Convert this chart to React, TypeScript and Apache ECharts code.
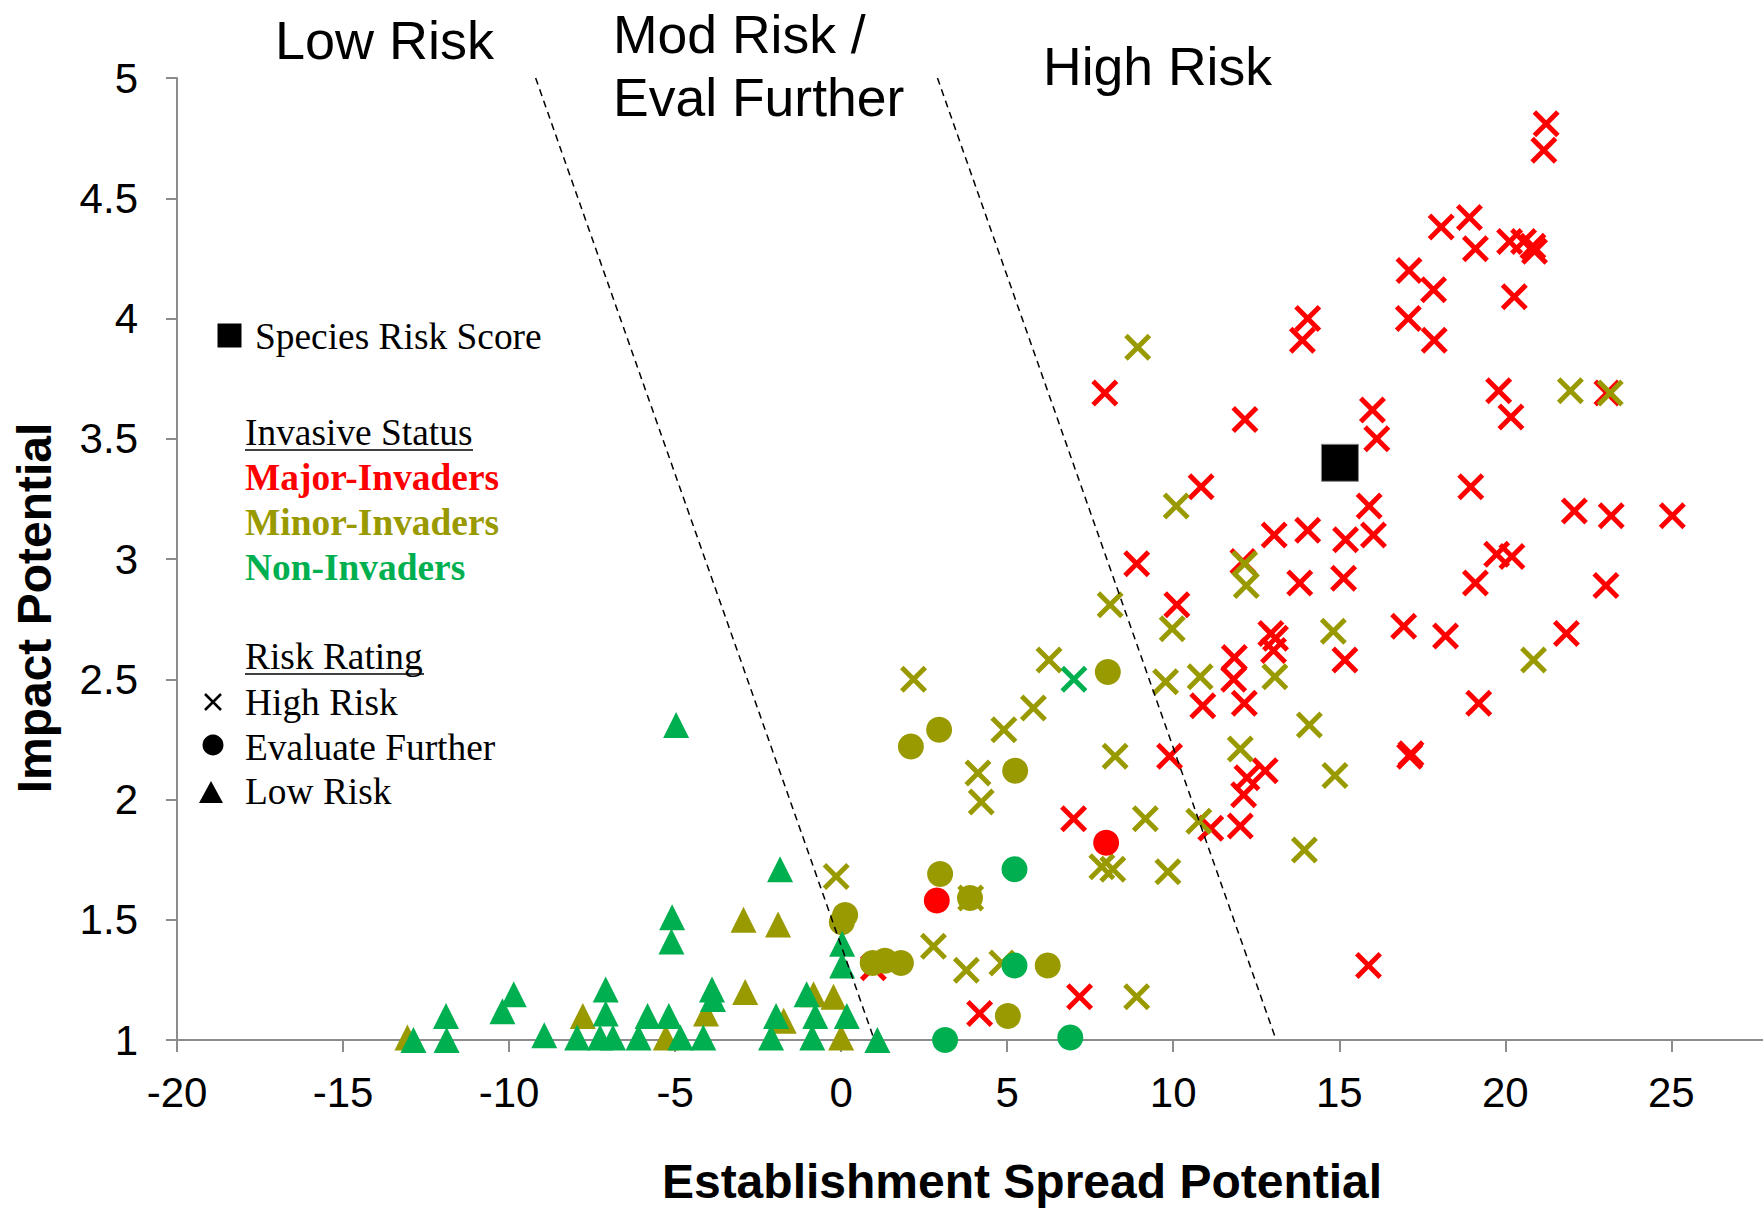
import React, { useEffect, useRef } from "react";
import * as echarts from "echarts";

// Establishment spread (x) and impact (y) scores, by invasive status and risk rating
const majorHighRisk: [number, number][] = [
  [21.23, 4.81], [21.16, 4.70],
  [18.07, 4.38], [18.92, 4.42], [19.10, 4.29], [20.13, 4.32], [20.55, 4.32], [20.83, 4.30], [20.88, 4.28],
  [17.10, 4.20], [17.84, 4.12], [17.08, 4.00], [17.86, 3.91], [20.27, 4.09],
  [14.05, 4.00], [13.89, 3.91],
  [19.80, 3.70], [20.17, 3.59], [23.06, 3.69],
  [7.94, 3.69], [12.16, 3.58], [16.00, 3.62], [16.13, 3.50],
  [10.84, 3.30], [18.96, 3.30], [15.90, 3.22],
  [22.08, 3.20], [23.19, 3.18], [25.03, 3.18],
  [13.04, 3.10], [14.05, 3.12], [15.19, 3.08], [16.03, 3.10],
  [19.74, 3.02], [20.20, 3.01],
  [8.90, 2.98], [12.10, 2.99], [13.81, 2.90], [15.13, 2.92], [19.10, 2.90], [23.03, 2.89],
  [10.11, 2.81],
  [12.94, 2.69], [13.08, 2.67], [13.02, 2.62], [16.94, 2.72], [18.20, 2.68], [21.84, 2.69],
  [11.84, 2.59], [11.82, 2.50], [15.17, 2.58],
  [10.89, 2.39], [12.14, 2.40], [19.20, 2.40],
  [17.12, 2.18], [17.16, 2.19],
  [9.89, 2.18],
  [12.22, 2.09], [12.77, 2.12], [12.12, 2.02],
  [11.13, 1.88], [12.02, 1.89],
  [7.00, 1.92],
  [15.88, 1.31],
  [7.18, 1.18], [4.17, 1.11], [0.97, 1.30],
];

const minorHighRisk: [number, number][] = [
  [8.93, 3.88], [10.09, 3.22], [12.15, 2.98], [12.20, 2.89], [8.10, 2.81], [9.97, 2.71], [14.82, 2.70],
  [21.96, 3.70], [23.16, 3.69], [20.85, 2.58],
  [6.26, 2.58], [2.18, 2.50], [9.77, 2.49], [10.81, 2.51], [13.06, 2.51],
  [5.79, 2.38], [4.90, 2.29], [14.10, 2.31],
  [4.12, 2.11], [4.22, 1.99], [8.25, 2.18], [12.02, 2.21], [14.87, 2.10],
  [10.77, 1.91], [9.16, 1.92], [13.95, 1.79],
  [7.85, 1.72], [8.18, 1.71], [9.84, 1.70],
  [-0.15, 1.68], [3.90, 1.59],
  [2.78, 1.39], [3.77, 1.29], [4.84, 1.32],
  [8.90, 1.18],
];

const nonHighRisk: [number, number][] = [[7.01, 2.50]];

const majorEvaluate: [number, number][] = [[2.88, 1.58], [7.98, 1.82]];

const minorEvaluate: [number, number][] = [
  [8.03, 2.53], [2.95, 2.29], [2.10, 2.22], [5.24, 2.12], [2.98, 1.69], [3.88, 1.59],
  [0.12, 1.52], [0.02, 1.49], [0.95, 1.32], [1.32, 1.33], [1.80, 1.32], [6.22, 1.31], [5.02, 1.10],
];

const nonEvaluate: [number, number][] = [[5.22, 1.71], [5.22, 1.31], [3.13, 1.00], [6.90, 1.01]];

const minorLowRisk: [number, number][] = [
  [-13.06, 1.01], [-7.78, 1.10], [-5.28, 1.01], [-4.07, 1.11], [-2.94, 1.50], [-1.90, 1.48],
  [-2.89, 1.20], [-1.73, 1.08], [-0.83, 1.19], [-0.23, 1.18], [0.00, 1.01],
];

const nonLowRisk: [number, number][] = [
  [-12.88, 1.00], [-11.90, 1.10], [-11.88, 1.00], [-10.20, 1.12], [-9.86, 1.19], [-8.94, 1.02],
  [-7.95, 1.01], [-7.09, 1.21], [-7.09, 1.11], [-7.26, 1.01], [-6.87, 1.01], [-6.10, 1.01],
  [-5.83, 1.10], [-5.19, 1.10], [-4.84, 1.01], [-4.15, 1.01], [-3.89, 1.21], [-3.86, 1.17],
  [-2.11, 1.01], [-1.96, 1.10], [-1.04, 1.19], [-0.78, 1.10], [-0.87, 1.01], [0.17, 1.10],
  [0.03, 1.40], [0.03, 1.31], [1.09, 1.00], [-4.97, 2.31], [-1.84, 1.71], [-5.09, 1.51], [-5.11, 1.41],
];

const speciesRiskScore: [number, number][] = [[15.02, 3.40]];

// Boundaries between the risk zones
const lowModBoundary: [number, number][] = [[-9.2, 5], [1.0, 1]];
const modHighBoundary: [number, number][] = [[2.9, 5], [13.1, 1]];

const xTickValues = [-20, -15, -10, -5, 0, 5, 10, 15, 20, 25];

const RED = "#FF0000";
const OLIVE = "#999900";
const GREEN = "#00B050";
const AXIS = "#8C8C8C";
const SANS = "'Liberation Sans', Arial, sans-serif";
const SERIF = "'Liberation Serif', 'Times New Roman', serif";

const CROSS = "path://M0,13L13,0L50,37L87,0L100,13L63,50L100,87L87,100L50,63L13,100L0,87L37,50Z";

function scatter(data: [number, number][], symbol: string, size: number, color: string) {
  return {
    type: "scatter",
    data,
    symbol,
    symbolSize: size,
    itemStyle: { color, opacity: 1 },
    silent: true,
    emphasis: { disabled: true },
  };
}

function boundary(data: [number, number][]) {
  return {
    type: "line",
    data,
    symbol: "none",
    silent: true,
    z: 5,
    lineStyle: { color: "#000", width: 1.5, type: [7, 5] },
  };
}

function label(text: string, x: number, y: number, size: number, opts: any = {}) {
  return {
    type: "text",
    x,
    y,
    rotation: opts.rotation || 0,
    style: {
      text,
      fill: opts.fill || "#000",
      fontSize: size,
      fontFamily: opts.family || SANS,
      fontWeight: opts.weight || "normal",
      textAlign: opts.align || "left",
      textVerticalAlign: "middle",
    },
  };
}

export default function App() {
  const ref = useRef<HTMLDivElement>(null);

  useEffect(() => {
    const chart = echarts.init(ref.current!, null, { renderer: "svg" });
    const legendText = (t: string, y: number, fill = "#000", weight = "normal") =>
      label(t, 245, y, 37.4, { family: SERIF, fill, weight });

    chart.setOption({
      animation: false,
      grid: { left: 177, right: 0, top: 78, bottom: 171, containLabel: false, outerBoundsMode: "none" },
      xAxis: {
        type: "value",
        min: -20,
        max: 27.76,
        interval: 5,
        splitLine: { show: false },
        axisLine: { show: true, onZero: false, lineStyle: { color: AXIS, width: 2 } },
        axisTick: { show: true, length: 12, customValues: xTickValues, lineStyle: { color: AXIS, width: 2 } },
        axisLabel: {
          customValues: xTickValues,
          margin: 31,
          color: "#000",
          fontSize: 42,
          fontFamily: SANS,
        },
      },
      yAxis: {
        type: "value",
        min: 1,
        max: 5,
        interval: 0.5,
        splitLine: { show: false },
        axisLine: { show: true, onZero: false, lineStyle: { color: AXIS, width: 2 } },
        axisTick: { show: true, length: 11, lineStyle: { color: AXIS, width: 2 } },
        axisLabel: { margin: 39, color: "#000", fontSize: 42, fontFamily: SANS },
      },
      series: [
        scatter(majorHighRisk, CROSS, 27, RED),
        scatter(minorHighRisk, CROSS, 27, OLIVE),
        scatter(nonHighRisk, CROSS, 27, GREEN),
        scatter(majorEvaluate, "circle", 26, RED),
        scatter(minorEvaluate, "circle", 26, OLIVE),
        scatter(nonEvaluate, "circle", 26, GREEN),
        scatter(minorLowRisk, "triangle", 26, OLIVE),
        scatter(nonLowRisk, "triangle", 26, GREEN),
        boundary(lowModBoundary),
        boundary(modHighBoundary),
        {
          ...scatter(speciesRiskScore, "rect", 37, "#000"),
          itemStyle: { color: "#000", opacity: 1, borderColor: "#888", borderWidth: 1 },
          z: 6,
        },
      ],
      graphic: [
        // Zone headings
        label("Low Risk", 275, 40, 54),
        label("Mod Risk /", 613, 34, 53.5),
        label("Eval Further", 613, 97, 53.5),
        label("High Risk", 1043, 66, 53.5),
        // Axis titles
        label("Establishment Spread Potential", 1022, 1181, 48, { weight: "bold", align: "center" }),
        label("Impact Potential", 34, 608, 48, { weight: "bold", align: "center", rotation: Math.PI / 2 }),
        // Legend
        { type: "rect", shape: { x: 217.5, y: 323.5, width: 24, height: 24 }, style: { fill: "#000" } },
        label("Species Risk Score", 255, 336, 37.4, { family: SERIF }),
        legendText("Invasive Status", 432),
        { type: "line", shape: { x1: 245, y1: 450, x2: 473, y2: 450 }, style: { stroke: "#000", lineWidth: 1.5 } },
        legendText("Major-Invaders", 477, RED, "bold"),
        legendText("Minor-Invaders", 522, OLIVE, "bold"),
        legendText("Non-Invaders", 567, GREEN, "bold"),
        legendText("Risk Rating", 656),
        { type: "line", shape: { x1: 245, y1: 674, x2: 424, y2: 674 }, style: { stroke: "#000", lineWidth: 1.5 } },
        { type: "line", shape: { x1: 205, y1: 694, x2: 221, y2: 710 }, style: { stroke: "#000", lineWidth: 2.5 } },
        { type: "line", shape: { x1: 221, y1: 694, x2: 205, y2: 710 }, style: { stroke: "#000", lineWidth: 2.5 } },
        legendText("High Risk", 702),
        { type: "circle", shape: { cx: 213, cy: 745, r: 10.5 }, style: { fill: "#000" } },
        legendText("Evaluate Further", 747),
        { type: "polygon", shape: { points: [[211, 781], [223, 803], [199, 803]] }, style: { fill: "#000" } },
        legendText("Low Risk", 791),
      ],
    });
    return () => chart.dispose();
  }, []);

  return (
    <div
      ref={ref}
      style={{ position: "absolute", left: 0, top: 0, width: 1763, height: 1211, background: "#fff" }}
    />
  );
}
